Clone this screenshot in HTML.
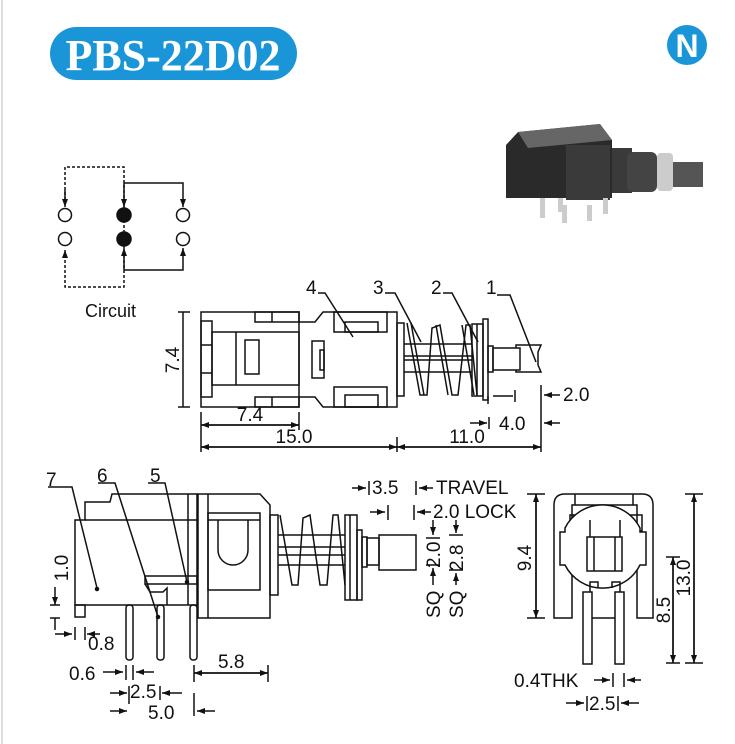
<!DOCTYPE html>
<html><head><meta charset="utf-8"><style>
html,body{margin:0;padding:0;background:#fff;}
svg{display:block}
text{font-family:"Liberation Sans",Arial,sans-serif;fill:#111}
</style></head><body>
<svg width="735" height="744" viewBox="0 0 735 744" xmlns="http://www.w3.org/2000/svg">
<defs>
<marker id="a" markerWidth="8" markerHeight="6" refX="8" refY="3" orient="auto" markerUnits="userSpaceOnUse"><path d="M0,0 L8,3 L0,6z" fill="#111"/></marker>
</defs>
<line x1="2" y1="0" x2="2" y2="744" stroke="#ddd" stroke-width="2"/>
<!-- title -->
<rect x="50" y="27" width="247" height="53" rx="26.5" fill="#1a96d8"/>
<text x="173" y="70" text-anchor="middle" style="font-family:'Liberation Serif',serif;font-weight:bold;font-size:44px;fill:#fff">PBS-22D02</text>
<circle cx="687" cy="45" r="20" fill="#1a96d8"/>
<text x="687" y="57" text-anchor="middle" style="font-weight:bold;font-size:32px;fill:#fff">N</text>
<!-- photo -->
<g>
<path d="M506,145 L518,132 L600,124 L612,140 L612,198 L506,198z" fill="#2a2a2a"/>
<path d="M518,132 L600,124 L612,140 L528,148z" fill="#666"/>
<rect x="566" y="145" width="44" height="55" fill="#3a3a3a"/>
<rect x="612" y="148" width="20" height="45" fill="#3a3a3a"/>
<rect x="627" y="152" width="30" height="40" fill="#444" rx="6"/>
<rect x="657" y="153" width="16" height="38" fill="#ccc" rx="4"/>
<rect x="673" y="162" width="30" height="25" fill="#555"/>
<rect x="540" y="198" width="5" height="20" fill="#ccc"/><rect x="558" y="198" width="5" height="14" fill="#ccc"/>
<rect x="562" y="205" width="5" height="18" fill="#ccc"/><rect x="587" y="205" width="5" height="16" fill="#ccc"/><rect x="603" y="198" width="5" height="16" fill="#ccc"/>
</g>
<g fill="none" stroke="#111" stroke-width="1.5">
<!-- circuit -->
<path d="M65,205 V167 H124 V287 H65 V250" stroke-dasharray="3,2" marker-end="url(#a)"/>
<line x1="65" y1="190" x2="65" y2="207" marker-end="url(#a)"/>
<path d="M124,183 H183 V207" marker-end="url(#a)"/>
<line x1="124" y1="183" x2="124" y2="207" marker-end="url(#a)"/>
<path d="M124,270 H183 V248" marker-end="url(#a)"/>
<line x1="124" y1="270" x2="124" y2="248" marker-end="url(#a)"/>
<circle cx="65" cy="215" r="6.5"/><circle cx="183" cy="215" r="6.5"/>
<circle cx="65" cy="239" r="6.5"/><circle cx="183" cy="239" r="6.5"/>
<circle cx="124" cy="215" r="7" fill="#111"/><circle cx="124" cy="239" r="7" fill="#111"/>

<!-- top view -->
<rect x="201" y="312" width="98" height="95"/>
<rect x="201" y="321" width="11" height="76"/>
<line x1="201" y1="345" x2="212" y2="345"/><line x1="201" y1="373" x2="212" y2="373"/>
<rect x="212" y="332" width="87" height="53"/>
<line x1="236" y1="332" x2="236" y2="385"/>
<rect x="245" y="340" width="14" height="34"/>
<rect x="255" y="312" width="44" height="10"/><line x1="272" y1="312" x2="272" y2="322"/>
<rect x="255" y="397" width="44" height="10"/><line x1="272" y1="397" x2="272" y2="407"/>
<path d="M299,322 H315 L323,312 H397 V407 H323 L315,397 H299"/>
<rect x="312" y="341" width="12" height="37"/><rect x="320" y="350" width="4" height="20"/>
<rect x="334" y="312" width="53" height="20"/><rect x="345" y="322" width="33" height="10"/>
<rect x="334" y="387" width="53" height="20"/><rect x="345" y="395" width="33" height="12"/>
<rect x="397" y="323" width="7" height="73"/>
<line x1="404" y1="344" x2="472" y2="344"/><line x1="404" y1="356" x2="472" y2="356"/>
<line x1="404" y1="360" x2="472" y2="360"/><line x1="404" y1="372" x2="472" y2="372"/>
<path d="M407,323 L420,395 L427,395 L432,328 L440,325 L452,395 L458,395 L466,325 L470,325 L477,395"/>
<path d="M411,323 L424,395 M436,325 L448,395 M462,325 L474,395"/>
<rect x="472" y="324" width="11" height="72"/><line x1="477" y1="324" x2="477" y2="396"/>
<rect x="483" y="319" width="5" height="81"/>
<rect x="488" y="346" width="5" height="26"/>
<rect x="493" y="348" width="27" height="22"/>
<path d="M516,348 V345 H541 L538,352 V365 L541,372 H516 V370"/>
<!-- leaders -->
<path d="M318,293 H325 L353,337"/><path d="M385,293 H395 L421,342"/><path d="M443,293 H452 L478,342"/><path d="M497,295 H510 L536,362"/>
<!-- dims top -->
<line x1="183" y1="312" x2="183" y2="407"/><line x1="178" y1="312" x2="190" y2="312"/><line x1="178" y1="407" x2="190" y2="407"/>
<line x1="201" y1="412" x2="201" y2="452"/><line x1="299" y1="412" x2="299" y2="430"/>
<line x1="201" y1="425" x2="299" y2="425" marker-end="url(#a)"/><line x1="299" y1="425" x2="201" y2="425" marker-end="url(#a)"/>
<line x1="397" y1="437" x2="397" y2="452"/><line x1="541" y1="385" x2="541" y2="452"/>
<line x1="201" y1="447" x2="397" y2="447" marker-end="url(#a)"/><line x1="397" y1="447" x2="201" y2="447" marker-end="url(#a)"/>
<line x1="397" y1="447" x2="541" y2="447" marker-end="url(#a)"/><line x1="541" y1="447" x2="397" y2="447" marker-end="url(#a)"/>
<line x1="488" y1="396" x2="488" y2="404"/><line x1="493" y1="396" x2="513" y2="396"/><line x1="515" y1="390" x2="515" y2="402"/>
<line x1="560" y1="395" x2="544" y2="395" marker-end="url(#a)"/>
<line x1="470" y1="423" x2="487" y2="423" marker-end="url(#a)"/><line x1="489" y1="417" x2="489" y2="429"/>
<line x1="560" y1="423" x2="544" y2="423" marker-end="url(#a)"/>

<!-- side view -->
<path d="M75,520 H85 V502 H110 L112,494 H197 V605 H75z"/>
<line x1="85" y1="520" x2="197" y2="520"/>
<rect x="75" y="605" width="10" height="12"/>
<line x1="188" y1="494" x2="188" y2="605"/>
<rect x="145" y="576" width="52" height="8"/>
<path d="M145,584 L150,592 H163 L167,588 V605"/>
<path d="M198,494 H260 L270,505 V618 H198 Z"/>
<line x1="208" y1="494" x2="208" y2="618"/>
<rect x="208" y="513" width="52" height="77"/><line x1="208" y1="520" x2="260" y2="520"/>
<path d="M218,520 V550 A15,15 0 0 0 248,550 V520"/>
<rect x="126" y="605" width="7" height="55" rx="3"/><rect x="157" y="605" width="7" height="55" rx="3"/><rect x="190" y="605" width="7" height="55" rx="3"/>
<rect x="270" y="515" width="8" height="80"/>
<line x1="278" y1="535" x2="345" y2="535"/><line x1="278" y1="547" x2="345" y2="547"/>
<line x1="278" y1="555" x2="345" y2="555"/><line x1="278" y1="565" x2="345" y2="565"/>
<path d="M280,515 L292,585 L298,585 L303,518 L310,515 L320,585 L327,585 L333,515 L338,515 L345,585"/>
<rect x="345" y="515" width="12" height="85"/><line x1="350" y1="515" x2="350" y2="600"/>
<rect x="357" y="530" width="5" height="70"/>
<rect x="362" y="537" width="5" height="30"/>
<rect x="367" y="538" width="12" height="27"/>
<rect x="379" y="535" width="37" height="35"/>
<!-- leaders -->
<path d="M48,487 H72 L97,588"/><circle cx="97" cy="589" r="1.5" fill="#111"/>
<path d="M98,483 H115 L158,617"/><circle cx="158" cy="617" r="1.5" fill="#111"/>
<path d="M148,483 H165 L187,582"/><circle cx="187" cy="582" r="1.5" fill="#111"/>
<!-- side dims -->
<line x1="50" y1="605" x2="60" y2="605"/><line x1="50" y1="618" x2="60" y2="618"/>
<line x1="55" y1="587" x2="55" y2="605" marker-end="url(#a)"/>
<line x1="55" y1="618" x2="55" y2="630"/>
<line x1="55" y1="634" x2="72" y2="634" marker-end="url(#a)"/><line x1="75" y1="627" x2="75" y2="640"/><line x1="85" y1="627" x2="85" y2="640"/><line x1="100" y1="634" x2="87" y2="634" marker-end="url(#a)"/>
<line x1="103" y1="672" x2="123" y2="672" marker-end="url(#a)"/><line x1="126" y1="665" x2="126" y2="680"/><line x1="133" y1="665" x2="133" y2="680"/><line x1="154" y1="672" x2="136" y2="672" marker-end="url(#a)"/>
<line x1="110" y1="693" x2="127" y2="693" marker-end="url(#a)"/><line x1="129" y1="686" x2="129" y2="704"/><line x1="160" y1="686" x2="160" y2="700"/><line x1="182" y1="693" x2="162" y2="693" marker-end="url(#a)"/>
<line x1="110" y1="711" x2="127" y2="711" marker-end="url(#a)"/><line x1="194" y1="693" x2="194" y2="716"/><line x1="215" y1="711" x2="197" y2="711" marker-end="url(#a)"/>
<line x1="194" y1="665" x2="194" y2="682"/><line x1="268" y1="665" x2="268" y2="682"/>
<line x1="194" y1="673" x2="268" y2="673" marker-end="url(#a)"/><line x1="268" y1="673" x2="194" y2="673" marker-end="url(#a)"/>
<line x1="352" y1="488" x2="366" y2="488" marker-end="url(#a)"/><line x1="369" y1="481" x2="369" y2="495"/>
<line x1="416" y1="481" x2="416" y2="495"/><line x1="433" y1="488" x2="419" y2="488" marker-end="url(#a)"/>
<line x1="370" y1="512" x2="385" y2="512" marker-end="url(#a)"/><line x1="388" y1="505" x2="388" y2="520"/>
<line x1="414" y1="505" x2="414" y2="520"/><line x1="431" y1="512" x2="417" y2="512" marker-end="url(#a)"/>
<line x1="433" y1="520" x2="433" y2="535" marker-end="url(#a)"/><line x1="426" y1="538" x2="440" y2="538"/><line x1="426" y1="565" x2="440" y2="565"/><line x1="433" y1="585" x2="433" y2="568" marker-end="url(#a)"/>
<line x1="456" y1="520" x2="456" y2="533" marker-end="url(#a)"/><line x1="449" y1="535" x2="463" y2="535"/><line x1="449" y1="570" x2="463" y2="570"/><line x1="456" y1="585" x2="456" y2="573" marker-end="url(#a)"/>

<!-- front view -->
<path d="M572,618 V505 H637 V618 H653 V505 Q653,494 642,494 H565 Q554,494 554,505 V618 Z"/>
<line x1="575" y1="494" x2="575" y2="505"/><line x1="633" y1="494" x2="633" y2="505"/>
<rect x="570" y="515" width="14" height="16"/><rect x="628" y="515" width="14" height="16"/>
<path d="M565,528 A42,42 0 0 1 640,528 V532 H646 V565 H640 A42,42 0 0 1 565,565 H560 V532 H565 Z" fill="#fff"/>
<rect x="587" y="537" width="35" height="34"/><line x1="594" y1="537" x2="594" y2="571"/><line x1="615" y1="537" x2="615" y2="571"/>
<line x1="590" y1="520" x2="590" y2="537"/><line x1="620" y1="520" x2="620" y2="537"/>
<path d="M590,592 V582 H598 V588 M612,588 V582 H620 V592"/>
<rect x="583" y="592" width="9" height="72" fill="#fff"/><rect x="615" y="592" width="9" height="72" fill="#fff"/>
<line x1="592" y1="618" x2="615" y2="618"/>
<line x1="527" y1="494" x2="545" y2="494"/><line x1="527" y1="618" x2="545" y2="618"/>
<line x1="536" y1="494" x2="536" y2="618" marker-end="url(#a)"/><line x1="536" y1="618" x2="536" y2="494" marker-end="url(#a)"/>
<line x1="685" y1="494" x2="703" y2="494"/><line x1="685" y1="663" x2="703" y2="663"/>
<line x1="694" y1="494" x2="694" y2="663" marker-end="url(#a)"/><line x1="694" y1="663" x2="694" y2="494" marker-end="url(#a)"/>
<line x1="666" y1="557" x2="680" y2="557"/><line x1="666" y1="663" x2="680" y2="663"/>
<line x1="673" y1="557" x2="673" y2="663" marker-end="url(#a)"/><line x1="673" y1="663" x2="673" y2="557" marker-end="url(#a)"/>
<line x1="594" y1="680" x2="610" y2="680" marker-end="url(#a)"/><line x1="613" y1="673" x2="613" y2="687"/><line x1="624" y1="673" x2="624" y2="687"/><line x1="641" y1="680" x2="627" y2="680" marker-end="url(#a)"/>
<line x1="566" y1="703" x2="584" y2="703" marker-end="url(#a)"/><line x1="587" y1="696" x2="587" y2="711"/><line x1="618" y1="696" x2="618" y2="711"/><line x1="639" y1="703" x2="621" y2="703" marker-end="url(#a)"/>
</g>

<g font-size="19">
<text x="85" y="317" font-size="18">Circuit</text>
<text x="306" y="294">4</text><text x="373" y="294">3</text><text x="431" y="294">2</text><text x="486" y="294">1</text>
<text x="179" y="360" transform="rotate(-90 179 360)" text-anchor="middle">7.4</text>
<text x="250" y="421" text-anchor="middle">7.4</text>
<text x="294" y="443" text-anchor="middle">15.0</text>
<text x="467" y="443" text-anchor="middle">11.0</text>
<text x="563" y="401">2.0</text>
<text x="499" y="430">4.0</text>
<text x="46" y="486">7</text><text x="97" y="482">6</text><text x="150" y="482">5</text>
<text x="68" y="568" transform="rotate(-90 68 568)" text-anchor="middle">1.0</text>
<text x="88" y="650">0.8</text>
<text x="69" y="680">0.6</text>
<text x="130" y="698">2.5</text>
<text x="148" y="719">5.0</text>
<text x="218" y="668">5.8</text>
<text x="372" y="494">3.5</text>
<text x="436" y="494">TRAVEL</text>
<text x="433" y="518">2.0 LOCK</text>
<text x="440" y="568" transform="rotate(-90 440 568)">2.0</text>
<text x="440" y="618" transform="rotate(-90 440 618)">SQ</text>
<text x="463" y="571" transform="rotate(-90 463 571)">2.8</text>
<text x="463" y="618" transform="rotate(-90 463 618)">SQ</text>
<text x="531" y="558" transform="rotate(-90 531 558)" text-anchor="middle">9.4</text>
<text x="690" y="578" transform="rotate(-90 690 578)" text-anchor="middle">13.0</text>
<text x="670" y="610" transform="rotate(-90 670 610)" text-anchor="middle">8.5</text>
<text x="514" y="687">0.4THK</text>
<text x="589" y="710">2.5</text>
</g>
</svg>
</body></html>
